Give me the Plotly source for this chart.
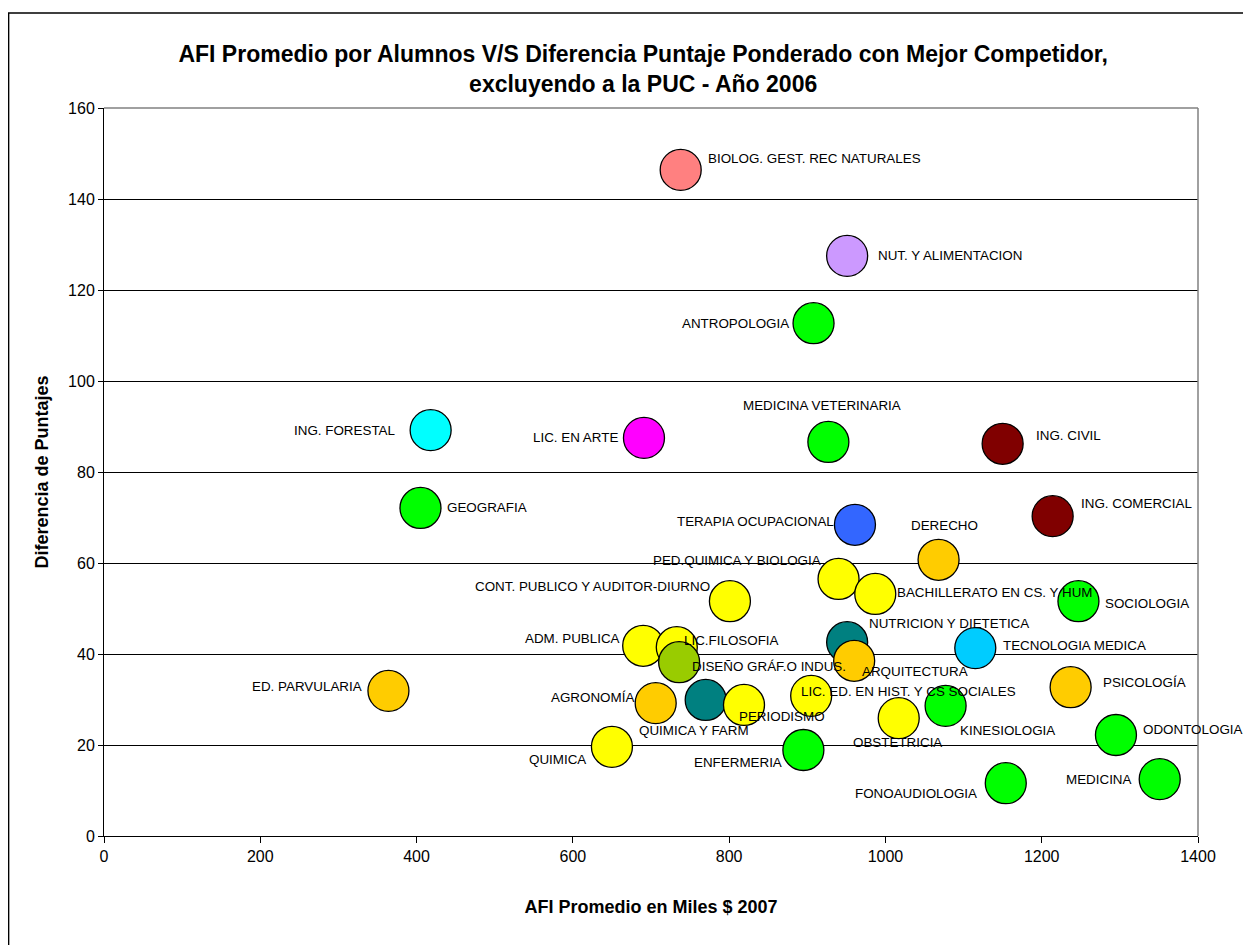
import plotly.graph_objects as go

# ---- data ----
carreras = [
    "BIOLOG. GEST. REC NATURALES", "NUT. Y ALIMENTACION", "ANTROPOLOGIA", "ING. FORESTAL",
    "LIC. EN ARTE", "MEDICINA VETERINARIA", "ING. CIVIL", "GEOGRAFIA", "ING. COMERCIAL",
    "TERAPIA OCUPACIONAL", "DERECHO", "PED.QUIMICA Y BIOLOGIA", "BACHILLERATO EN CS. Y HUM",
    "CONT. PUBLICO Y AUDITOR-DIURNO", "SOCIOLOGIA", "ADM. PUBLICA", "LIC.FILOSOFIA",
    "DISEÑO GRÁF.O INDUS.", "NUTRICION Y DIETETICA", "ARQUITECTURA", "TECNOLOGIA MEDICA",
    "ED. PARVULARIA", "PSICOLOGÍA", "AGRONOMÍA", "QUIMICA Y FARM", "PERIODISMO",
    "LIC. ED. EN HIST. Y CS SOCIALES", "OBSTETRICIA", "KINESIOLOGIA", "ODONTOLOGIA",
    "QUIMICA", "ENFERMERIA", "FONOAUDIOLOGIA", "MEDICINA",
]
afi_promedio = [738, 951, 908, 418, 691, 927, 1150, 405, 1214, 961, 1068, 940, 987,
                801, 1247, 690, 733, 736, 951, 960, 1115, 364, 1237, 706, 770, 819,
                905, 1017, 1077, 1295, 650, 895, 1154, 1351]
diferencia = [146.4, 127.5, 112.7, 89.2, 87.5, 86.6, 86.2, 72.1, 70.3, 68.4, 60.7, 56.5,
              53.2, 51.6, 51.6, 41.8, 41.5, 38.2, 42.6, 38.5, 41.3, 31.9, 32.7, 29.2,
              29.9, 28.8, 30.8, 25.9, 28.6, 22.2, 19.6, 18.9, 11.6, 12.5]
colores = ["#FF8080", "#CC99FF", "#00FF00", "#00FFFF", "#FF00FF", "#00FF00", "#800000",
           "#00FF00", "#800000", "#3366FF", "#FFCC00", "#FFFF00", "#FFFF00", "#FFFF00",
           "#00FF00", "#FFFF00", "#FFFF00", "#99CC00", "#008080", "#FFCC00", "#00CCFF",
           "#FFCC00", "#FFCC00", "#FFCC00", "#008080", "#FFFF00", "#FFFF00", "#FFFF00",
           "#00FF00", "#00FF00", "#FFFF00", "#00FF00", "#00FF00", "#00FF00"]
x_ticks = [0, 200, 400, 600, 800, 1000, 1200, 1400]
y_ticks = [0, 20, 40, 60, 80, 100, 120, 140, 160]

# ---- label placement (style: anchor, pixel shifts) ----
label_style = [
    ("left", 25, 11), ("left", 29, 0), ("right", -23, 0), ("right", -34, 0),
    ("right", -24, 0), ("center", -6, 36), ("left", 31, 8), ("left", 25, 0),
    ("left", 26, 13), ("right", -19, 3), ("center", 6, 34), ("right", -16, 18),
    ("left", 20, 1), ("right", -18, 15), ("left", 25, -2), ("right", -21, 7),
    ("left", 5, 7), ("left", 11, -4), ("left", 20, 19), ("left", 6, -11),
    ("left", 26, 3), ("right", -24, 4), ("left", 30, 5), ("right", -20, 6),
    ("center", -12, -31), ("left", -7, -12), ("left", -12, 4), ("center", -1, -24),
    ("left", 12, -25), ("left", 25, 5), ("right", -24, -13), ("right", -19, -12),
    ("right", -27, -10), ("right", -26, 0),
]

fig = go.Figure()
fig.add_trace(go.Scatter(
    x=afi_promedio, y=diferencia, mode="markers",
    marker=dict(size=41, color=colores, line=dict(color="black", width=1.3)),
    hovertext=carreras, showlegend=False,
))

annotations = []
for name, xv, yv, (anchor, dx, dy) in zip(carreras, afi_promedio, diferencia, label_style):
    annotations.append(dict(
        x=xv, y=yv, xref="x", yref="y", text=name, showarrow=False,
        xanchor=anchor, yanchor="middle", xshift=dx, yshift=dy,
        font=dict(family="Liberation Sans, Arial", size=13.4, color="black"),
    ))

fig.update_layout(
    width=1243, height=937,
    margin=dict(l=96, r=53, t=100, b=109),
    paper_bgcolor="white", plot_bgcolor="white",
    font=dict(family="Liberation Sans, Arial", color="black"),
    title=dict(
        text="AFI Promedio por Alumnos V/S Diferencia Puntaje Ponderado con Mejor Competidor,<br>excluyendo a la PUC - Año 2006",
        x=0.511, xanchor="center", y=0.9425, yanchor="middle",
        font=dict(family="Liberation Sans, Arial", size=23, color="black", weight="bold"),
    ),
    xaxis=dict(
        range=[0, 1400], tickvals=x_ticks, ticks="outside", ticklen=6, tickcolor="black",
        showgrid=False, zeroline=False, showline=True, linecolor="black", linewidth=1,
        tickfont=dict(size=16), mirror=False,
        title=dict(text="<b>AFI Promedio en Miles $ 2007</b>", font=dict(size=18), standoff=36),
    ),
    yaxis=dict(
        range=[0, 160], tickvals=y_ticks, ticks="outside", ticklen=5, tickcolor="black",
        showgrid=True, gridcolor="black", gridwidth=1, zeroline=False,
        showline=True, linecolor="black", linewidth=1, tickfont=dict(size=16),
        title=dict(text="<b>Diferencia de Puntajes</b>", font=dict(size=18), standoff=14),
    ),
    annotations=annotations,
    shapes=[
        dict(type="line", xref="paper", yref="paper", x0=1, x1=1, y0=0, y1=1,
             line=dict(color="#808080", width=1.5)),
        dict(type="line", xref="paper", yref="paper", x0=0, x1=1, y0=1, y1=1,
             line=dict(color="#808080", width=1.5)),
        dict(type="rect", xref="paper", yref="paper", x0=-0.0872, x1=1.2, y0=-0.3, y1=1.1305,
             line=dict(color="black", width=1.5), fillcolor="rgba(0,0,0,0)", layer="below"),
    ],
)

fig.write_html("out.html")
